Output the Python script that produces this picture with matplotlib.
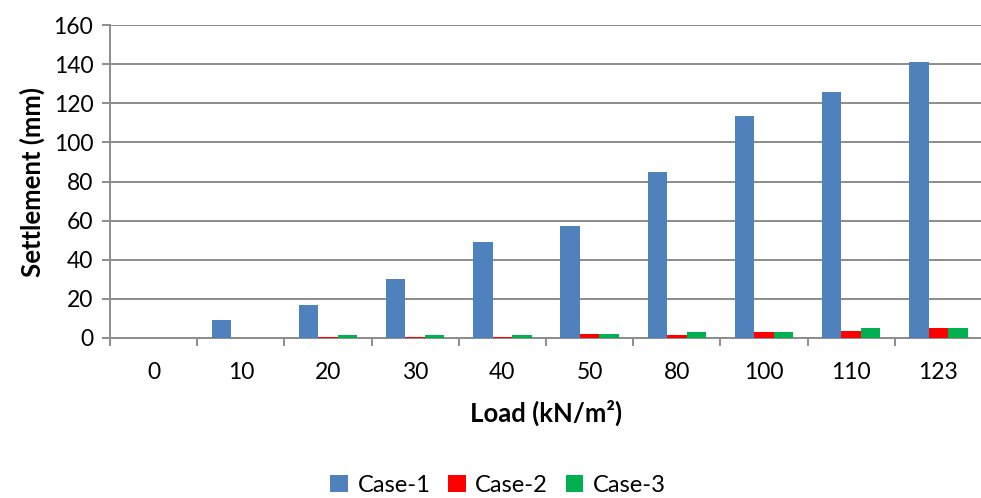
import numpy as np
import matplotlib
matplotlib.use("Agg")
import matplotlib.pyplot as plt
from matplotlib.ticker import MultipleLocator, FixedLocator

plt.rcParams['font.family'] = ['Lato', 'DejaVu Sans']

# load steps and measured settlement per case
loads = ['0', '10', '20', '30', '40', '50', '80', '100', '110', '123']
case1 = [0, 9, 17, 30, 49, 57, 85, 113.5, 126, 141]
case2 = [0, 0, 0.7, 0.7, 0.7, 2, 1.7, 3.2, 3.7, 5]
case3 = [0, 0, 1.5, 1.5, 1.5, 2, 2.9, 2.9, 5, 5]

series = [('Case-1', case1, '#4F81BD'),
          ('Case-2', case2, '#FF0000'),
          ('Case-3', case3, '#00B050')]

fig = plt.figure(figsize=(9.81, 4.98), dpi=100)
ax = fig.add_axes([110 / 981, 1 - 338 / 498, 872 / 981, 313 / 498])

x = np.arange(len(loads))
w = 0.224
for i, (name, vals, col) in enumerate(series):
    ax.bar(x + (i - 1) * w, vals, width=w, color=col, label=name, zorder=3)

ax.set_xlim(-0.5, len(loads) - 0.5)
ax.set_ylim(0, 160)
ax.yaxis.set_major_locator(MultipleLocator(20))
ax.grid(axis='y', color='#8c8c8c', linewidth=1.4, zorder=0)

ax.set_xticks(x)
ax.set_xticklabels(loads)
ax.xaxis.set_minor_locator(FixedLocator(np.arange(-0.5, len(loads), 1.0)))
ax.tick_params(axis='x', which='major', length=0, pad=17, labelsize=16.5)
ax.tick_params(axis='x', which='minor', length=6, width=1.4, color='#8c8c8c')
ax.tick_params(axis='y', length=6, width=1.4, color='#8c8c8c', pad=6, labelsize=16.5)

for s in ['top', 'right']:
    ax.spines[s].set_visible(False)
for s in ['left', 'bottom']:
    ax.spines[s].set_color('#8c8c8c')
    ax.spines[s].set_linewidth(1.4)

ax.set_ylabel('Settlement (mm)', fontsize=18.5, fontweight='bold', labelpad=6)
ax.set_xlabel('Load (kN/m²)', fontsize=18.5, fontweight='bold', labelpad=12)

fig.legend(*ax.get_legend_handles_labels(), loc='center',
           bbox_to_anchor=(498 / 981, 1 - 485 / 498),
           ncol=3, frameon=False, fontsize=17, handlelength=0.75, handleheight=0.75,
           handletextpad=0.4, columnspacing=0.75, borderpad=0)

fig.savefig('out.png', dpi=100)
